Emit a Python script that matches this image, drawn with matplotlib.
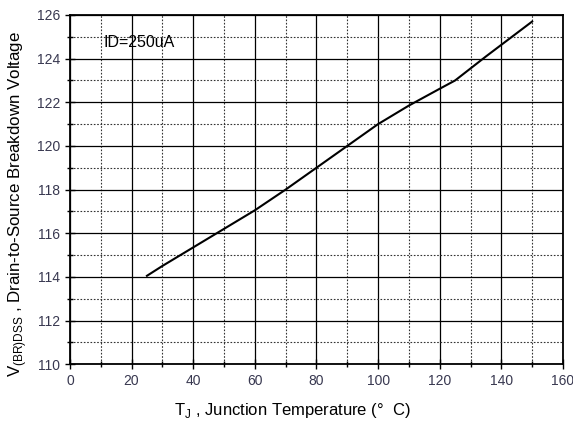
import matplotlib
matplotlib.use("Agg")
from matplotlib import pyplot as plt
from matplotlib.ticker import MultipleLocator

# data
temp = [25, 30, 40, 50, 60, 70, 80, 90, 100, 110, 120, 125, 135, 150]
vbr = [114.05, 114.5, 115.35, 116.2, 117.05, 118.0, 119.0, 120.0, 121.0, 121.85, 122.62, 123.0, 124.1, 125.7]

plt.rcParams['font.family'] = ['Liberation Sans', 'DejaVu Sans']
plt.rcParams['mathtext.fontset'] = 'custom'
plt.rcParams['mathtext.rm'] = 'Liberation Sans'

fig = plt.figure(figsize=(5.73, 4.22), dpi=100)
ax = fig.add_axes([0.122, 0.137, 0.8605, 0.8275])

ax.plot(temp, vbr, color="black", lw=1.5, zorder=3)

ax.set_xlim(0, 160)
ax.set_ylim(110, 126)
ax.xaxis.set_major_locator(MultipleLocator(20))
ax.xaxis.set_minor_locator(MultipleLocator(10))
ax.yaxis.set_major_locator(MultipleLocator(2))
ax.yaxis.set_minor_locator(MultipleLocator(1))

ax.grid(which="major", color="black", lw=0.9, ls="-")
ax.grid(which="minor", color="#333333", lw=0.8, ls=(0, (1.5, 1.5)))
ax.set_axisbelow(True)

ax.tick_params(which="major", direction="inout", length=7, width=1,
               labelsize=10, labelcolor="#383850")
ax.tick_params(which="minor", direction="inout", length=5, width=1)
for s in ax.spines.values():
    s.set_linewidth(1.3)

ax.text(10.8, 124.75, "ID=250uA", fontsize=11.5, va="center", zorder=4)

ax.set_xlabel(r"T$_{\mathregular{J}}$ , Junction Temperature (°  C)", fontsize=12, labelpad=7)
ax.set_ylabel(r"V$_{\mathregular{(BR)DSS}}$ , Drain-to-Source Breakdown Voltage", fontsize=12.2)
ax.xaxis.set_label_coords(0.452, -0.105)
ax.yaxis.set_label_coords(-0.082, 0.46)

fig.savefig("out.png", dpi=100)
